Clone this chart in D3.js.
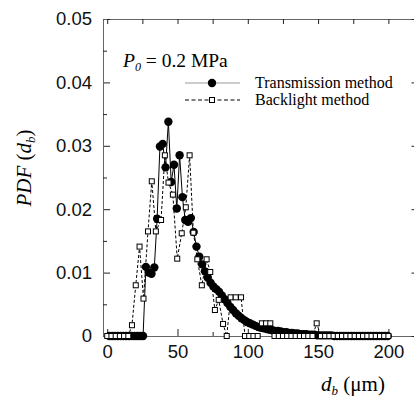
<!DOCTYPE html>
<html>
<head>
<meta charset="utf-8">
<script src="https://cdn.jsdelivr.net/npm/d3@7"></script>
<style>
  body { margin: 0; background: #fff; }
  .tick text { font-family: "Liberation Sans", Arial, sans-serif; font-size: 18.5px; fill: #111; }
  .tick line { stroke: #222; }
</style>
</head>
<body>
<div id="chart"></div>
<script>
// transmission method (filled circles, solid line), d_b in um
var transX = [1.5,3.5,5.5,7.5,9.5,11.5,13.5,15.5,17.5,19.5,21.5,23.5,25.5,27.5,29.5,31.5,33.5,35.5,37.5,39.5,
  41.5,43.5,45.5,47.5,49.5,51.5,53.5,55.5,57.5,59.5,61.5,63.5,65.5,67.5,69.5,71.5,73.5,75.5,77.5,79.5,
  81.5,83.5,85.5,87.5,89.5,91.5,93.5,95.5,97.5,99.5,101.5,103.5,105.5,107.5,109.5,111.5,113.5,115.5,117.5,119.5,
  121.5,123.5,125.5,127.5,129.5,131.5,133.5,135.5,137.5,139.5,141.5,143.5,145.5,147.5,149.5,151.5,153.5,155.5,157.5,159.5,
  161.5,163.5,165.5,167.5,169.5,171.5,173.5,175.5,177.5,179.5,181.5,183.5,185.5,187.5,189.5,191.5,193.5,195.5,197.5,199.5];
var transY = [0,0,0,0,0,0,0,0,0,0,0,0,0,0.0109,0.0100,0.0098,0.0108,0.0185,0.0299,0.0303,
  0.0266,0.0338,0.0243,0.0270,0.0201,0.0285,0.0219,0.0183,0.0180,0.0186,0.0164,0.0141,0.0125,0.0113,0.0102,0.0092,0.0084,0.0078,0.0074,0.0070,
  0.0064,0.0058,0.0052,0.0046,0.0041,0.0036,0.0032,0.0028,0.0025,0.0022,0.0020,0.0018,0.0016,0.0014,0.0013,0.0012,0.0011,0.0010,0.0009,0.0008,
  0.0008,0.0007,0.0006,0.0006,0.0005,0.0005,0.0004,0.0004,0.0003,0.0003,0.0003,0.0002,0.0002,0.0002,0.0001,0.0001,0.0001,0.0001,0.0001,0.0001,
  0,0,0,0,0,0,0,0,0,0,0,0,0,0,0,0,0,0,0,0];

// backlight method (open squares, dashed line)
var backX = [0,3,6,9,12,15,17.6,20.3,23,25.8,29,31.7,34.6,38.3,41,43.6,46.7,49.8,53,55.9,
  58.6,61.3,64.1,67.3,70.7,73.3,76.6,79.3,82.4,85,87.8,91.4,95.2,98,101,104,107,110,113,116,
  119,122,125,128,131,134,137,140,143,146,149,152,155,158,161,164,167,170,173,176,
  179,182,185,188,191,194,197,200];
var backY = [0,0,0,0,0,0,0.0017,0.0080,0.0141,0.0059,0.0165,0.0244,0.0165,0.0183,0.0285,0.0242,0.0223,0.0122,0.0162,0.0203,
  0.0285,0.0163,0.0121,0.0080,0.0121,0.0101,0.0041,0.0057,0.0019,0,0.0061,0.0061,0.0061,0,0,0,0,0.0020,0.0020,0.0020,
  0,0,0,0,0,0,0,0,0,0,0.0020,0,0,0,0,0,0,0,0,0,
  0,0,0,0,0,0,0,0];

var xMajor = [0, 50, 100, 150, 200];
var xMinor = [25, 75, 125, 175];
var yMajor = [0, 0.01, 0.02, 0.03, 0.04, 0.05];
var yMinor = [0.005, 0.015, 0.025, 0.035, 0.045];

var W = 414, H = 398;
var plotL = 103, plotR = 416.5, plotT = 19, plotB = 336;

var svg = d3.select("#chart").append("svg")
  .attr("width", W).attr("height", H);

var x = d3.scaleLinear().domain([-3, 220]).range([plotL, plotR]);
var y = d3.scaleLinear().domain([0, 0.05]).range([plotB, plotT]);

function fmtY(d) { return d === 0 ? "0" : d.toFixed(2); }

// axes, ticks pointing inward
svg.append("g").attr("transform", "translate(0," + plotB + ")")
  .call(d3.axisBottom(x).tickValues(xMajor).tickSize(-7).tickPadding(9).tickFormat(d3.format("d")));
svg.append("g").attr("transform", "translate(0," + plotB + ")")
  .call(d3.axisBottom(x).tickValues(xMinor).tickSize(-4).tickFormat(""));
svg.append("g").attr("transform", "translate(0," + plotT + ")")
  .call(d3.axisTop(x).tickValues(xMajor.concat(xMinor)).tickSize(-5).tickFormat(""));
svg.append("g").attr("transform", "translate(" + plotL + ",0)")
  .call(d3.axisLeft(y).tickValues(yMajor).tickSize(-7).tickPadding(11).tickFormat(fmtY));
svg.append("g").attr("transform", "translate(" + plotL + ",0)")
  .call(d3.axisLeft(y).tickValues(yMinor).tickSize(-4).tickFormat(""));
svg.append("g").attr("transform", "translate(" + plotR + ",0)")
  .call(d3.axisRight(y).tickValues(yMajor).tickSize(-5).tickFormat(""));

svg.selectAll(".domain").attr("stroke", "#666");

var trans = transX.map(function(d, i) { return {x: d, y: transY[i]}; });
var back = backX.map(function(d, i) { return {x: d, y: backY[i]}; });

var line = d3.line().x(function(d) { return x(d.x); }).y(function(d) { return y(d.y); });

svg.append("path").datum(trans)
  .attr("d", line).attr("fill", "none").attr("stroke", "#000").attr("stroke-width", 1);
svg.selectAll(".tc").data(trans).enter().append("circle")
  .attr("class", "tc")
  .attr("cx", function(d) { return x(d.x); })
  .attr("cy", function(d) { return y(d.y); })
  .attr("r", 4.2).attr("fill", "#000");

svg.append("path").datum(back)
  .attr("d", line).attr("fill", "none").attr("stroke", "#000")
  .attr("stroke-width", 1).attr("stroke-dasharray", "3,2");
svg.selectAll(".bs").data(back).enter().append("rect")
  .attr("class", "bs")
  .attr("x", function(d) { return x(d.x) - 2.5; })
  .attr("y", function(d) { return y(d.y) - 2.5; })
  .attr("width", 5).attr("height", 5)
  .attr("fill", "#fff").attr("stroke", "#000").attr("stroke-width", 1);

// legend
var serif = "'Liberation Serif', 'Times New Roman', serif";
var lg = svg.append("g");
lg.append("line").attr("x1", 185).attr("x2", 240).attr("y1", 83).attr("y2", 83)
  .attr("stroke", "#999").attr("stroke-width", 1);
lg.append("circle").attr("cx", 212).attr("cy", 83).attr("r", 4.2).attr("fill", "#000");
lg.append("text").attr("x", 255).attr("y", 88)
  .attr("font-family", serif).attr("font-size", "16px").text("Transmission method");
lg.append("line").attr("x1", 185).attr("x2", 240).attr("y1", 100).attr("y2", 100)
  .attr("stroke", "#000").attr("stroke-width", 1).attr("stroke-dasharray", "4,2.5");
lg.append("rect").attr("x", 209.5).attr("y", 97.5).attr("width", 5).attr("height", 5)
  .attr("fill", "#fff").attr("stroke", "#000");
lg.append("text").attr("x", 255).attr("y", 105)
  .attr("font-family", serif).attr("font-size", "16px").text("Backlight method");

// pressure annotation
var p = svg.append("text").attr("x", 123).attr("y", 67)
  .attr("font-family", serif).attr("font-size", "19.5px");
p.append("tspan").attr("font-style", "italic").text("P");
p.append("tspan").attr("font-style", "italic").attr("font-size", "12px").attr("dy", 4).text("0");
p.append("tspan").attr("dy", -4).text(" = 0.2 MPa");

// axis titles
var yl = svg.append("text")
  .attr("transform", "translate(31,168) rotate(-90)")
  .attr("text-anchor", "middle")
  .attr("font-family", serif).attr("font-size", "21px").attr("font-style", "italic");
yl.append("tspan").text("PDF");
yl.append("tspan").attr("font-style", "normal").text(" (");
yl.append("tspan").text("d");
yl.append("tspan").attr("font-size", "13px").attr("dy", 4).text("b");
yl.append("tspan").attr("font-style", "normal").attr("dy", -4).text(")");

var xl = svg.append("text").attr("x", 353).attr("y", 391)
  .attr("text-anchor", "middle")
  .attr("font-family", serif).attr("font-size", "21px");
xl.append("tspan").attr("font-style", "italic").text("d");
xl.append("tspan").attr("font-style", "italic").attr("font-size", "13px").attr("dy", 4).text("b");
xl.append("tspan").attr("dy", -4).text(" (μm)");
</script>
</body>
</html>
